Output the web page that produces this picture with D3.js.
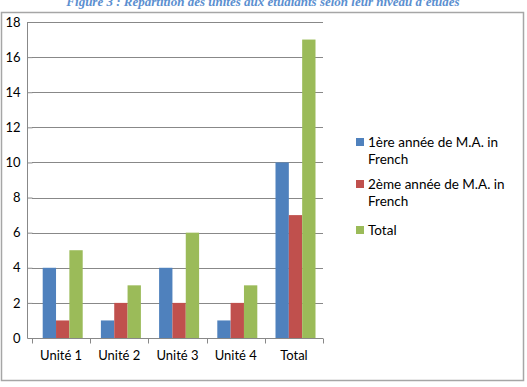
<!DOCTYPE html>
<html><head><meta charset="utf-8">
<script src="https://cdn.jsdelivr.net/npm/d3@7"></script>
<style>body{margin:0;background:#fff;overflow:hidden}</style>
</head><body>
<svg id="c" width="527" height="387"></svg>
<script>
const categories = ["Unité 1", "Unité 2", "Unité 3", "Unité 4", "Total"];
const seriesNames = ["1ère année de M.A. in French", "2ème année de M.A. in French", "Total"];
const serie1 = [4, 1, 4, 1, 10];
const serie2 = [1, 2, 2, 2, 7];
const serie3 = [5, 3, 6, 3, 17];
const yTicks = [0, 2, 4, 6, 8, 10, 12, 14, 16, 18];
const colors = ["#4F81BD", "#C0504D", "#9BBB59"];
const titleText = "Figure 3 : Répartition des unités aux étudiants selon leur niveau d'études";

const svg = d3.select("#c");
const font = "Lato, 'Liberation Sans', Arial, sans-serif";

// title (partially cut at top, as in the source)
svg.append("text").attr("x", 263).attr("y", 6).attr("text-anchor", "middle")
  .attr("font-family", "'Liberation Serif', serif").attr("font-weight", "bold").attr("font-style", "italic")
  .attr("font-size", 13).attr("fill", "#5B8FD0").text(titleText);

// chart border
svg.append("rect").attr("x", 1.5).attr("y", 12.5).attr("width", 522).attr("height", 368)
  .attr("fill", "#fff").attr("stroke", "#A6A6A6").attr("stroke-width", 1.5);

const x0 = d3.scaleBand().domain(categories).range([32, 323]).paddingInner(0).paddingOuter(0);
const y = d3.scaleLinear().domain([0, 18]).range([338, 22]);
const x1 = d3.scaleBand().domain([0, 1, 2]).range([10.7, x0.bandwidth() - 7.5]);

// gridlines
svg.append("g").selectAll("line").data(yTicks.filter(d => d > 0)).join("line")
  .attr("x1", 32).attr("x2", 323).attr("y1", d => Math.round(y(d)) + 0.5).attr("y2", d => Math.round(y(d)) + 0.5)
  .attr("stroke", "#888").attr("stroke-width", 1);

const data = categories.map((c, i) => ({ c, v: [serie1[i], serie2[i], serie3[i]] }));
svg.append("g").selectAll("g").data(data).join("g")
  .attr("transform", d => `translate(${x0(d.c)},0)`)
  .selectAll("rect").data(d => d.v.map((v, k) => ({ v, k }))).join("rect")
  .attr("x", d => x1(d.k)).attr("width", x1.bandwidth())
  .attr("y", d => y(d.v)).attr("height", d => y(0) - y(d.v))
  .attr("fill", d => colors[d.k]);

// y axis
const yAxis = d3.axisLeft(y).tickValues(yTicks).tickSize(5).tickPadding(7);
const gy = svg.append("g").attr("transform", "translate(32.5,0)").call(yAxis);
gy.select(".domain").attr("stroke", "#888").attr("d", "M-5,22V338.5");
gy.selectAll(".tick line").attr("stroke", "#888");
gy.selectAll("text").attr("font-family", font).attr("font-size", 13).attr("fill", "#000");

// x axis
const xAxis = d3.axisBottom(x0).tickSize(0).tickPadding(12);
const gx = svg.append("g").attr("transform", "translate(0,338.5)").call(xAxis);
gx.select(".domain").attr("stroke", "#888").attr("d", "M32,0H323");
gx.selectAll("text").attr("font-family", font).attr("font-size", 13).attr("fill", "#000");
const tickPos = d3.range(categories.length + 1).map(i => 32 + i * x0.bandwidth());
gx.append("g").selectAll("line").data(tickPos).join("line")
  .attr("x1", d => Math.round(d) + 0.5).attr("x2", d => Math.round(d) + 0.5).attr("y1", 0).attr("y2", 5)
  .attr("stroke", "#888");

// legend
const legendLines = [["1ère année de M.A. in", "French"], ["2ème année de M.A. in", "French"], ["Total"]];
const legTop = [138, 180, 226];
const lg = svg.append("g");
legendLines.forEach((lines, k) => {
  lg.append("rect").attr("x", 356).attr("y", legTop[k]).attr("width", 8).attr("height", 8).attr("fill", colors[k]);
  lines.forEach((t, j) => {
    lg.append("text").attr("x", 368).attr("y", legTop[k] + 9 + j * 17)
      .attr("font-family", font).attr("font-size", 13.5).attr("fill", "#000").text(t);
  });
});
</script>
</body></html>
